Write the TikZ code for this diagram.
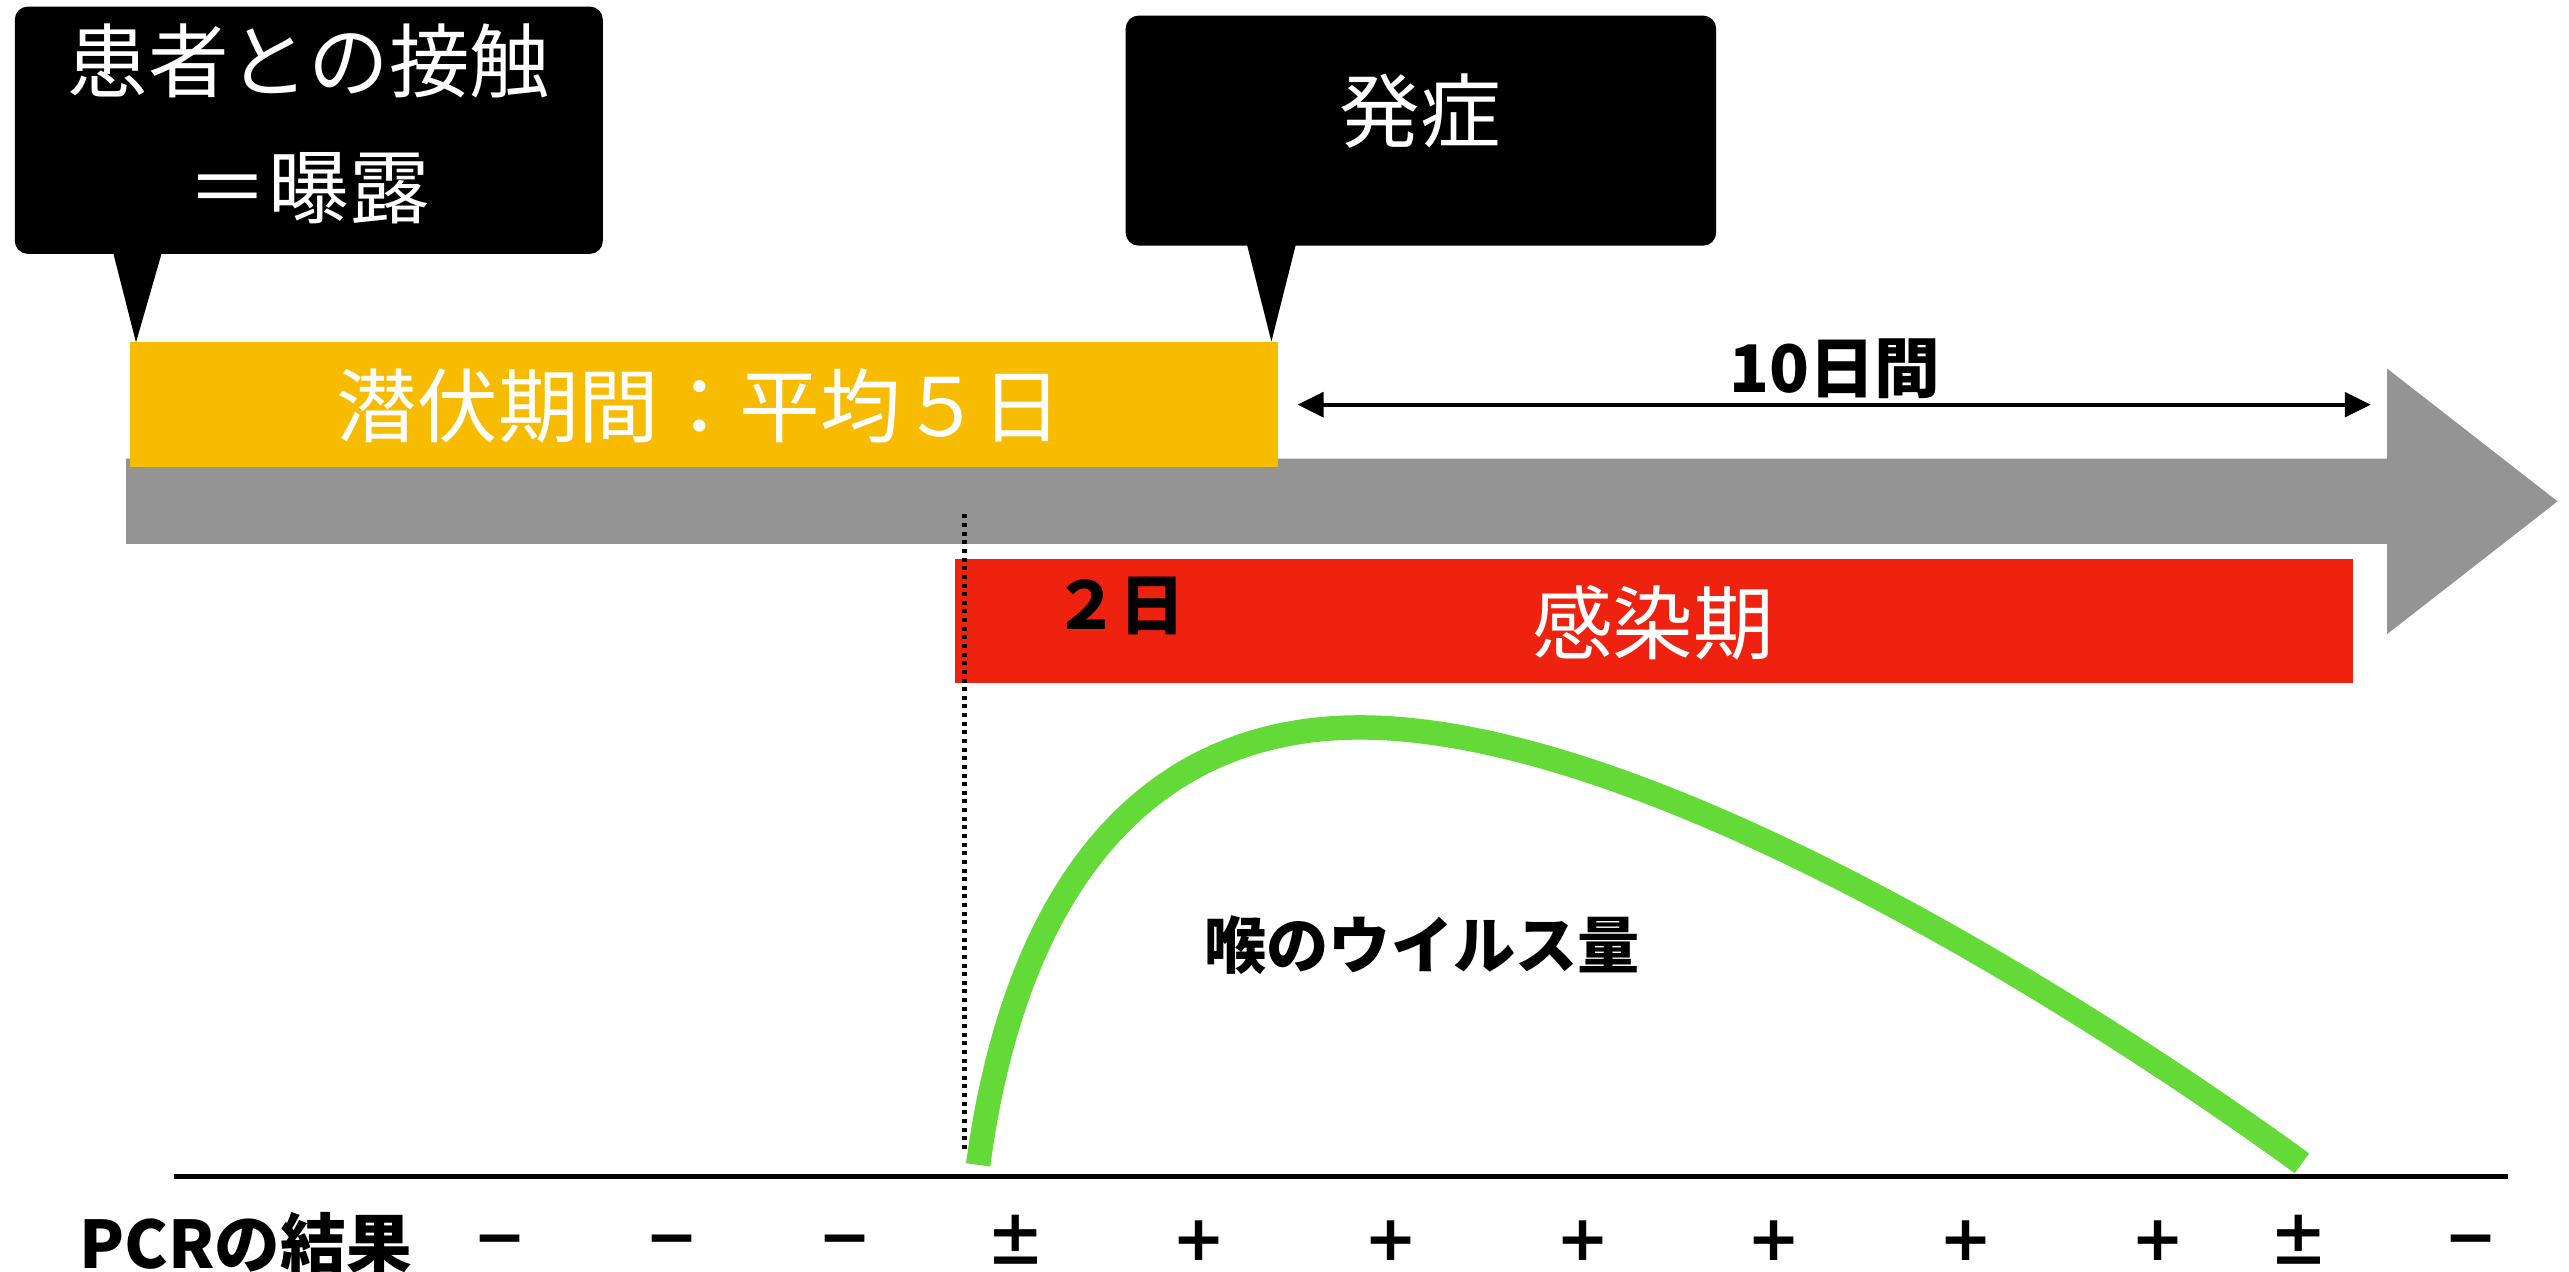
\documentclass[tikz,border=0pt]{standalone}
\usepackage{fontspec}
\newfontfamily\jp{Noto Sans CJK JP}
\newfontfamily\dv{DejaVu Sans}
\usetikzlibrary{arrows.meta}
\definecolor{cgray}{RGB}{148,148,148}
\definecolor{cyellow}{RGB}{247,188,0}
\definecolor{cred}{RGB}{238,34,14}
\definecolor{cgreen}{RGB}{100,218,56}
\begin{document}
\begin{tikzpicture}[x=0.02cm, y=-0.02cm,
 callout/.style={fill=black, rounded corners=0.16cm, inner sep=0pt, draw=none},
 bar/.style={inner sep=0pt, draw=none, minimum height=1.52cm},
 wtxt/.style={text=white, inner sep=0pt, font=\jp\fontsize{28pt}{43.8pt}\selectfont, align=center},
 btxt/.style={text=black, inner sep=0pt, font=\jp\bfseries\fontsize{22.8pt}{27pt}\selectfont},
 plussym/.style={text=black, inner sep=0pt, font=\dv\bfseries\fontsize{22pt}{24pt}\selectfont},
 pmsym/.style={text=black, inner sep=0pt, font=\jp\bfseries\fontsize{21pt}{24pt}\selectfont},
 minsym/.style={text=black, inner sep=0pt, font=\dv\bfseries\fontsize{22pt}{24pt}\selectfont}
]
\useasboundingbox (0,0) rectangle (1568,776);
% timeline arrow
\fill[cgray] (77,280) -- (1457,280) -- (1457,225) -- (1561,306) -- (1457,387) -- (1457,332) -- (77,332) -- cycle;
% incubation bar
\node[bar, fill=cyellow, minimum width=14.02cm] (inc) at (429.5,247) {};
\node[wtxt] (inct) at (427,248) {潜伏期間：平均５日};
% infectious bar
\node[bar, fill=cred, minimum width=17.06cm] (inf) at (1009.5,379) {};
\node[wtxt] (inft) at (1009,380) {感染期};
\node[btxt] (two) at (683,370) {２日};
% callouts
\node[callout, minimum width=7.18cm, minimum height=3.02cm] (c1) at (188.5,79.5) {};
\coordinate (p1) at (83,209);
\fill[black] (68,150) -- (100,150) -- (p1) -- cycle;
\node[wtxt] (c1t) at (188.5,75.5) {患者との接触\\＝曝露};
\node[callout, minimum width=7.21cm, minimum height=2.81cm] (c2) at (867.25,79.75) {};
\coordinate (p2) at (776,208.5);
\fill[black] (760,145) -- (792,145) -- (p2) -- cycle;
\node[wtxt] (c2t) at (867,68) {発症};
% 10 days arrow
\coordinate (a1) at (792,247);
\coordinate (a2) at (1447,247);
\draw[line width=1.5pt, {Triangle[length=9pt,width=8.5pt]}-{Triangle[length=9pt,width=8.5pt]}] (a1) -- (a2);
\node[btxt] (ten) at (1120,225) {10日間};
% dotted line
\coordinate (d1) at (588.8,314);
\coordinate (d2) at (588.8,701);
\draw[line width=1.6pt, dash pattern=on 1.4pt off 1.6pt] (d1) -- (d2);
% viral load curve
\coordinate (g0) at (597,711);
\coordinate (g1) at (830,444);
\coordinate (g2) at (1405,710);
\draw[cgreen, line width=8.5pt] (g0) .. controls (620,540) and (700,444) .. (g1) .. controls (1000,444) and (1260,605) .. (g2);
\node[btxt, font=\jp\bfseries\fontsize{21.6pt}{26pt}\selectfont] (vl) at (868,577) {喉のウイルス量};
% base line
\coordinate (b1) at (106,718);
\coordinate (b2) at (1531,718);
\draw[line width=1.7pt] (b1) -- (b2);
% PCR row
\node[btxt] (pcr) at (150,759) {PCRの結果};
\node[minsym] (m1) at (305,761) {−};
\node[minsym] (m2) at (410,761) {−};
\node[minsym] (m3) at (516,761) {−};
\node[pmsym] (m4) at (620,757) {±};
\node[plussym] (m5) at (732,757) {+};
\node[plussym] (m6) at (849,757) {+};
\node[plussym] (m7) at (966,757) {+};
\node[plussym] (m8) at (1083,757) {+};
\node[plussym] (m9) at (1200,757) {+};
\node[plussym] (m10) at (1317,757) {+};
\node[pmsym] (m11) at (1403,757) {±};
\node[minsym] (m12) at (1508,761) {−};
\end{tikzpicture}
\end{document}
